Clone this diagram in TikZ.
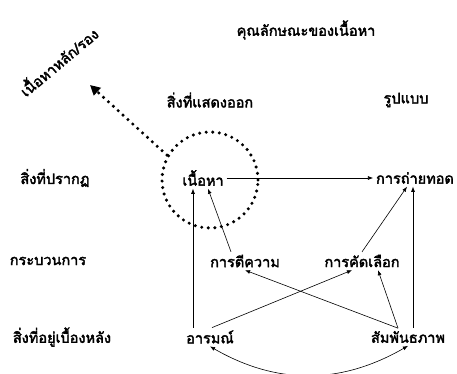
\documentclass[tikz,border=0pt]{standalone}
\usepackage{fontspec}
\newfontfamily\thaifont[Script=Thai, FakeBold=2.5]{Loma}
\usetikzlibrary{arrows.meta,positioning}

\begin{document}
\begin{tikzpicture}[
  x=1pt, y=1pt,
  font=\thaifont\fontsize{14.5}{17}\selectfont,
  lbl/.style={inner sep=1pt, outer sep=2pt},
  arrow/.style={-{Latex[length=1.8mm,width=1.4mm]}, line width=0.6pt},
  dotline/.style={line width=3.4pt, dash pattern=on 0pt off 6.6pt, line cap=round}
]
\useasboundingbox (0,0) rectangle (457,373);
% headings
\node[lbl] (title) at (306,343) {คุณลักษณะของเนื้อหา};
\node[lbl, rotate=40] (main) at (58,312) {เนื้อหาหลัก/รอง};
\node[lbl] (shown) at (210,273) {สิ่งที่แสดงออก};
\node[lbl] (form) at (406,273) {รูปแบบ};
% row labels
\node[lbl] (appear) at (55,195) {สิ่งที่ปรากฏ};
\node[lbl] (process) at (48,112) {กระบวนการ};
\node[lbl] (behind) at (62,36) {สิ่งที่อยู่เบื้องหลัง};
% diagram nodes
\node[lbl] (content) at (203,195) {เนื้อหา};
\node[lbl] (transmit) at (415,195) {การถ่ายทอด};
\node[lbl] (interpret) at (245,112) {การตีความ};
\node[lbl] (select) at (362,112) {การคัดเลือก};
\node[lbl] (emotion) at (210,36) {อารมณ์};
\node[lbl] (relation) at (408,36) {สัมพันธภาพ};
\node[draw, circle, dotline, minimum size=96pt] (ring) at (210,193) {};
\coordinate (tip) at (90,288);

\draw[dotline, -{Triangle[length=10pt,width=10pt]}] (ring.150) -- (tip);
\draw[arrow] (content) -- (transmit);
\draw[arrow] ([xshift=-17pt]emotion.north) -- ([xshift=-17pt]emotion.north |- content.south);
\draw[arrow] ([xshift=-14pt]interpret.north) -- ([xshift=5pt]content.south);
\draw[arrow] (select.north) -- ([xshift=-8pt]transmit.south);
\draw[arrow] ([xshift=5pt]relation.north) -- ([xshift=5pt]relation.north |- transmit.south);
\draw[arrow] ([xshift=-10pt]relation.north) -- (interpret.south);
\draw[arrow] ([xshift=2pt]emotion.north) -- ([xshift=-10pt]select.south);
\draw[arrow] ([xshift=-10pt]relation.north) -- ([xshift=16pt]select.south);
\draw[arrow, {Latex[length=1.8mm,width=1.4mm]}-{Latex[length=1.8mm,width=1.4mm]}] (emotion.south) to[out=-30, in=-150] (relation.south);
\end{tikzpicture}
\end{document}
